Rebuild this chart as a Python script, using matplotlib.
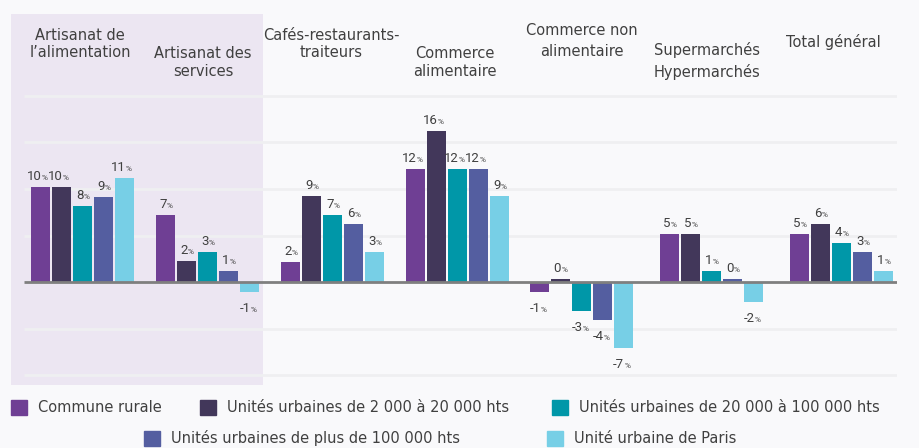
import numpy as np
import matplotlib
matplotlib.use("Agg")
import matplotlib.pyplot as plt
from matplotlib.patches import Rectangle

# --- data (variation en %) ---
categories = [
    "Artisanat de\nl\u2019alimentation",
    "Artisanat des\nservices",
    "Caf\u00e9s-restaurants-\ntraiteurs",
    "Commerce\nalimentaire",
    "Commerce non\nalimentaire",
    "Supermarch\u00e9s\nHypermarch\u00e9s",
    "Total g\u00e9n\u00e9ral",
]
series_names = [
    "Commune rurale",
    "Unit\u00e9s urbaines de 2 000 \u00e0 20 000 hts",
    "Unit\u00e9s urbaines de 20 000 \u00e0 100 000 hts",
    "Unit\u00e9s urbaines de plus de 100 000 hts",
    "Unit\u00e9 urbaine de Paris",
]
commune_rurale = [10.2, 7.2, 2.2, 12.2, -1.1, 5.2, 5.2]
uu_2000_20000 = [10.2, 2.3, 9.2, 16.2, 0.3, 5.2, 6.2]
uu_20000_100000 = [8.2, 3.2, 7.2, 12.2, -3.1, 1.2, 4.2]
uu_plus_100000 = [9.1, 1.2, 6.2, 12.2, -4.1, 0.3, 3.2]
uu_paris = [11.2, -1.1, 3.2, 9.2, -7.1, -2.1, 1.2]
series = [commune_rurale, uu_2000_20000, uu_20000_100000, uu_plus_100000, uu_paris]

colors = ["#6f3f94", "#42375a", "#0097a8", "#545ea0", "#77cfe6"]
text_color = "#404040"

# --- layout ---
W, H = 919, 448
group_x = [0, 1, 2, 3, 3.99, 5.03, 6.07]
bar_w = 0.152
bar_step = 0.168
# (x centre px, y centre px, linespacing, align)
cat_layout = [
    (80, 44, 1.1, "center"),
    (203, 62, 1.25, "center"),
    (331, 44, 1.1, "center"),
    (455, 62, 1.25, "center"),
    (582, 41, 1.55, "center"),
    (654, 61, 1.45, "left"),
    (833, 42, 1.1, "center"),
]

plt.rcParams["font.family"] = ["DejaVu Sans"]

fig = plt.figure(figsize=(W / 100, H / 100), dpi=100)
fig.patch.set_facecolor("#f9f9fb")

px_per_pct = 9.3
zero_px = 282
top_px, bot_px = 14, 385
left_px, right_px = 11, 897
ax = fig.add_axes([left_px / W, 1 - bot_px / H, (right_px - left_px) / W, (bot_px - top_px) / H])
ax.set_facecolor("none")
x0_px = 82.5
unit_px = 125.0
ax.set_xlim((left_px - x0_px) / unit_px, (right_px - x0_px) / unit_px)
ax.set_ylim((zero_px - bot_px) / px_per_pct, (zero_px - top_px) / px_per_pct)
for s in ax.spines.values():
    s.set_visible(False)
ax.set_xticks([])
ax.set_yticks([])


def px_x(p):
    return (p - x0_px) / unit_px


def px_y(p):
    return (zero_px - p) / px_per_pct


# shaded area behind the first two groups
ax.axvspan(px_x(left_px), px_x(263), color="#ece6f2", zorder=0, lw=0)

for v in [-10, -5, 5, 10, 15, 20]:
    ax.hlines(v, px_x(24), px_x(right_px), color="#efeff1", lw=2, zorder=1)
ax.hlines(0, px_x(24), px_x(right_px), color="#7f7f7f", lw=2, zorder=3)

offsets = (np.arange(len(series)) - 2) * bar_step
for i, vals in enumerate(series):
    xs = np.array(group_x) + offsets[i]
    ax.bar(xs, vals, width=bar_w, color=colors[i], zorder=2)
    for x, v in zip(xs, vals):
        num = str(int(round(v)))
        if round(v) == 0:
            num = "0"
        if v >= 0:
            dy = 7
        else:
            dy = -20
        ax.annotate(num, (x, v), xytext=(1, dy), textcoords="offset pixels",
                    ha="right", va="baseline", fontsize=9.5, family="Roboto",
                    color=text_color)
        ax.annotate("%", (x, v), xytext=(1, dy), textcoords="offset pixels",
                    ha="left", va="baseline", fontsize=6, family="Roboto",
                    color=text_color)

for cat, (cx, cy, ls, al) in zip(categories, cat_layout):
    ax.text(px_x(cx), px_y(cy), cat, ha=al, va="center", multialignment=al,
            fontsize=10.5, linespacing=ls, color=text_color)

# legend, drawn by hand in figure pixels
legend_pos = [(11, 407), (200, 407), (552, 407), (144, 438), (547, 438)]
for name, col, (lx, ly) in zip(series_names, colors, legend_pos):
    fig.add_artist(Rectangle((lx / W, 1 - (ly + 8) / H), 16 / W, 15 / H,
                             transform=fig.transFigure, color=col))
    fig.text((lx + 27) / W, 1 - ly / H, name, ha="left", va="center",
             fontsize=10.5, color=text_color)

fig.savefig("out.png", dpi=100, facecolor=fig.get_facecolor())
